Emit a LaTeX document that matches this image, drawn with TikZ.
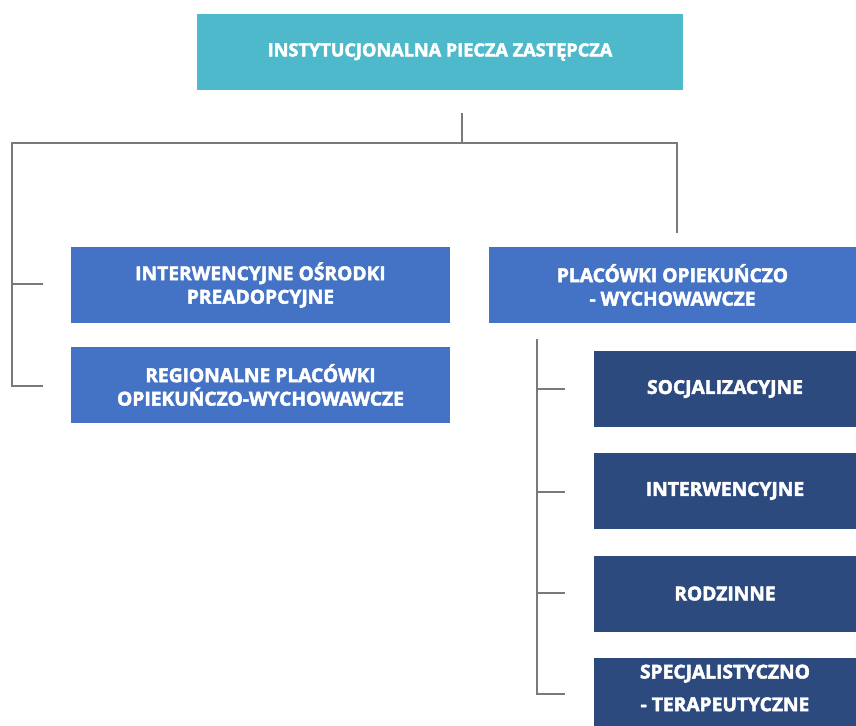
\documentclass[tikz,border=0pt]{standalone}
\usepackage{fontspec}
\setmainfont{Open Sans}[BoldFeatures={FakeBold=2.5}]
\definecolor{topc}{HTML}{4DB9CB}
\definecolor{midc}{HTML}{4472C4}
\definecolor{darkc}{HTML}{2C4A7E}
\definecolor{linec}{HTML}{7A7A7A}
\tikzset{
  box/.style={rectangle, inner sep=0pt, text=white, align=center,
    font=\fontsize{14.4}{17.6}\selectfont\bfseries, minimum height=57pt},
  topbox/.style={box, fill=topc, minimum width=364.5pt, font=\fontsize{13.6}{17}\selectfont\bfseries},
  midbox/.style={box, fill=midc},
  darkbox/.style={box, fill=darkc, minimum width=196.5pt},
  conn/.style={draw=linec, line width=2.2pt}
}
\begin{document}
\begin{tikzpicture}[x=0.75pt,y=-0.75pt]
\useasboundingbox (0,0) rectangle (856,725);
\begin{scope}
\clip (0,0) rectangle (856,725);
\node[topbox] (top) at (440,52) {INSTYTUCJONALNA PIECZA ZASTĘPCZA};
\node[midbox, minimum width=284.25pt] (a) at (260.5,285) {INTERWENCYJNE OŚRODKI\\PREADOPCYJNE};
\node[midbox, minimum width=284.25pt] (b) at (260.5,385) {REGIONALNE PLACÓWKI\\OPIEKUŃCZO-WYCHOWAWCZE};
\node[midbox, minimum width=275.25pt] (p) at (672.5,285) {PLACÓWKI OPIEKUŃCZO\\- WYCHOWAWCZE};
\node[darkbox] (s1) at (725,389) {SOCJALIZACYJNE};
\node[darkbox] (s2) at (725,491) {INTERWENCYJNE};
\node[darkbox] (s3) at (725,593.5) {RODZINNE};
\node[darkbox, minimum height=66pt] (s4) at (725,702) {};
\node[box, font=\fontsize{14.4}{24.5}\selectfont\bfseries] (s4t) at (725,688) {SPECJALISTYCZNO\\- TERAPEUTYCZNE};
\end{scope}
% connectors
\coordinate (t0) at (462,113);
\coordinate (t1) at (462,143);
\coordinate (l0) at (12,143);
\coordinate (r0) at (677,143);
\coordinate (r1) at (677,233);
\coordinate (la) at (12,284);
\coordinate (lb) at (12,386);
\coordinate (ta) at (43,284);
\coordinate (tb) at (43,386);
\coordinate (v0) at (537,339);
\coordinate (v1) at (537,389);
\coordinate (v2) at (537,492);
\coordinate (v3) at (537,593);
\coordinate (v4) at (537,694);
\coordinate (h1) at (565,389);
\coordinate (h2) at (565,492);
\coordinate (h3) at (565,593);
\coordinate (h4) at (565,694);
\draw[conn] (t0) -- (t1);
\draw[conn] (r1) -- (r0) -- (l0) -- (lb) -- (tb);
\draw[conn] (la) -- (ta);
\draw[conn] (v0) -- (v4) -- (h4);
\draw[conn] (v1) -- (h1);
\draw[conn] (v2) -- (h2);
\draw[conn] (v3) -- (h3);
\end{tikzpicture}
\end{document}
